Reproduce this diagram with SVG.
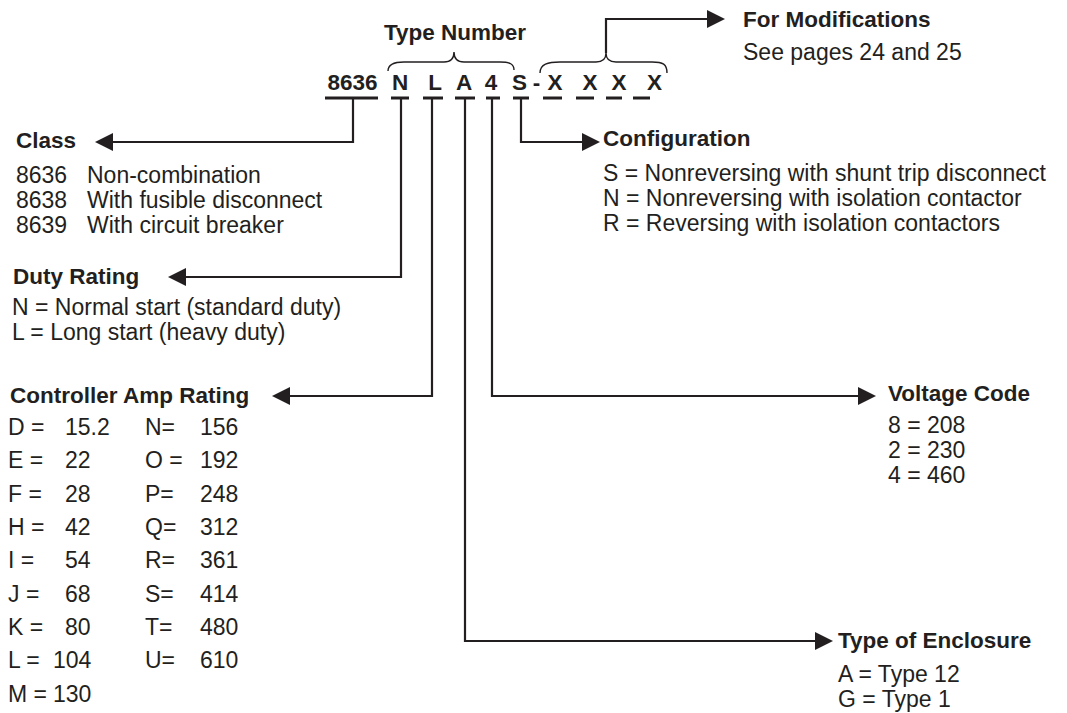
<svg xmlns="http://www.w3.org/2000/svg" width="1067" height="713" viewBox="0 0 1067 713">
<defs>
<style>
text{font-family:"Liberation Sans",Arial,Helvetica,sans-serif;font-size:23px;fill:#231f20}
.b{font-weight:bold;font-size:22.5px}
.m{text-anchor:middle}
.ul{stroke:#231f20;stroke-width:3;fill:none}
.con{stroke:#231f20;stroke-width:2.2;fill:none}
.brace{stroke:#231f20;stroke-width:1.4;fill:none}
</style>
<marker id="arr" markerUnits="userSpaceOnUse" markerWidth="18" markerHeight="18" refX="0" refY="9" orient="auto" viewBox="0 0 18 18">
<path d="M0,0 L18,9 L0,18 Z" fill="#231f20"/>
</marker>
</defs>
<rect width="1067" height="713" fill="#fff"/>

<g id="type-number">
<text class="b m" x="455" y="40">Type Number</text>
<path class="brace" d="M388,71 C388,64 394,62 404,62 L444,62 C450,62 454,59 454,52 C454,59 458,62 464,62 L500,62 C510,62 514,64 514,70"/>
<path class="brace" d="M540,73 C540,64 548,62 560,62 L596,62 C602,62 606,59 606,53 C606,59 610,62 616,62 L652,62 C663,62 667,64 667,73"/>
<text class="b m" x="352.5" y="90">8636</text>
<text class="b m" x="400" y="90">N</text>
<text class="b m" x="435" y="90">L</text>
<text class="b m" x="464" y="90">A</text>
<text class="b m" x="491" y="90">4</text>
<text class="b m" x="519.5" y="90">S</text>
<text class="b m" x="536.5" y="90">-</text>
<text class="b m" x="555" y="90">X</text>
<text class="b m" x="590" y="90">X</text>
<text class="b m" x="619" y="90">X</text>
<text class="b m" x="654.5" y="90">X</text>
<path class="ul" d="M325,98 H378 M391,98 H409 M423,98 H443 M455,98 H475 M486,98 H500 M513,98 H529 M543,98 H562 M576,98 H594 M606,98 H622 M633,98 H650"/>
</g>

<g id="connectors">
<path class="con" marker-end="url(#arr)" d="M353,98 V142 H113"/>
<path class="con" marker-end="url(#arr)" d="M401,98 V277 H186"/>
<path class="con" marker-end="url(#arr)" d="M432,98 V396 H290"/>
<path class="con" marker-end="url(#arr)" d="M521,98 V142 H582"/>
<path class="con" marker-end="url(#arr)" d="M492,98 V396 H858"/>
<path class="con" marker-end="url(#arr)" d="M465,98 V641 H815"/>
<path class="con" marker-end="url(#arr)" d="M606,53 V19 H707"/>
</g>

<g id="modifications">
<text class="b" x="743" y="27">For Modifications</text>
<text x="743" y="60">See pages 24 and 25</text>
</g>

<g id="class">
<text class="b" x="16" y="148">Class</text>
<text x="16" y="183">8636</text><text x="87" y="183">Non-combination</text>
<text x="16" y="208">8638</text><text x="87" y="208">With fusible disconnect</text>
<text x="16" y="233">8639</text><text x="87" y="233">With circuit breaker</text>
</g>

<g id="duty-rating">
<text class="b" x="13" y="284">Duty Rating</text>
<text x="12" y="315">N = Normal start (standard duty)</text>
<text x="12" y="340">L = Long start (heavy duty)</text>
</g>

<g id="controller-amp-rating">
<text class="b" x="10" y="403">Controller Amp Rating</text>
<text x="8" y="435">D =</text><text x="65" y="435">15.2</text><text x="145" y="435">N=</text><text x="200" y="435">156</text>
<text x="8" y="468">E =</text><text x="65" y="468">22</text><text x="145" y="468">O =</text><text x="200" y="468">192</text>
<text x="8" y="502">F =</text><text x="65" y="502">28</text><text x="145" y="502">P=</text><text x="200" y="502">248</text>
<text x="8" y="535">H =</text><text x="65" y="535">42</text><text x="145" y="535">Q=</text><text x="200" y="535">312</text>
<text x="8" y="568">I =</text><text x="65" y="568">54</text><text x="145" y="568">R=</text><text x="200" y="568">361</text>
<text x="8" y="602">J =</text><text x="65" y="602">68</text><text x="145" y="602">S=</text><text x="200" y="602">414</text>
<text x="8" y="635">K =</text><text x="65" y="635">80</text><text x="145" y="635">T=</text><text x="200" y="635">480</text>
<text x="8" y="668">L =</text><text x="53" y="668">104</text><text x="145" y="668">U=</text><text x="200" y="668">610</text>
<text x="8" y="702">M =</text><text x="53" y="702">130</text>
</g>

<g id="configuration">
<text class="b" x="603" y="146">Configuration</text>
<text x="603" y="181">S = Nonreversing with shunt trip disconnect</text>
<text x="603" y="206">N = Nonreversing with isolation contactor</text>
<text x="603" y="231">R = Reversing with isolation contactors</text>
</g>

<g id="voltage-code">
<text class="b" x="888" y="401">Voltage Code</text>
<text x="888" y="433">8 = 208</text>
<text x="888" y="458">2 = 230</text>
<text x="888" y="483">4 = 460</text>
</g>

<g id="enclosure">
<text class="b" x="838" y="648">Type of Enclosure</text>
<text x="838" y="682">A = Type 12</text>
<text x="838" y="707">G = Type 1</text>
</g>
</svg>
